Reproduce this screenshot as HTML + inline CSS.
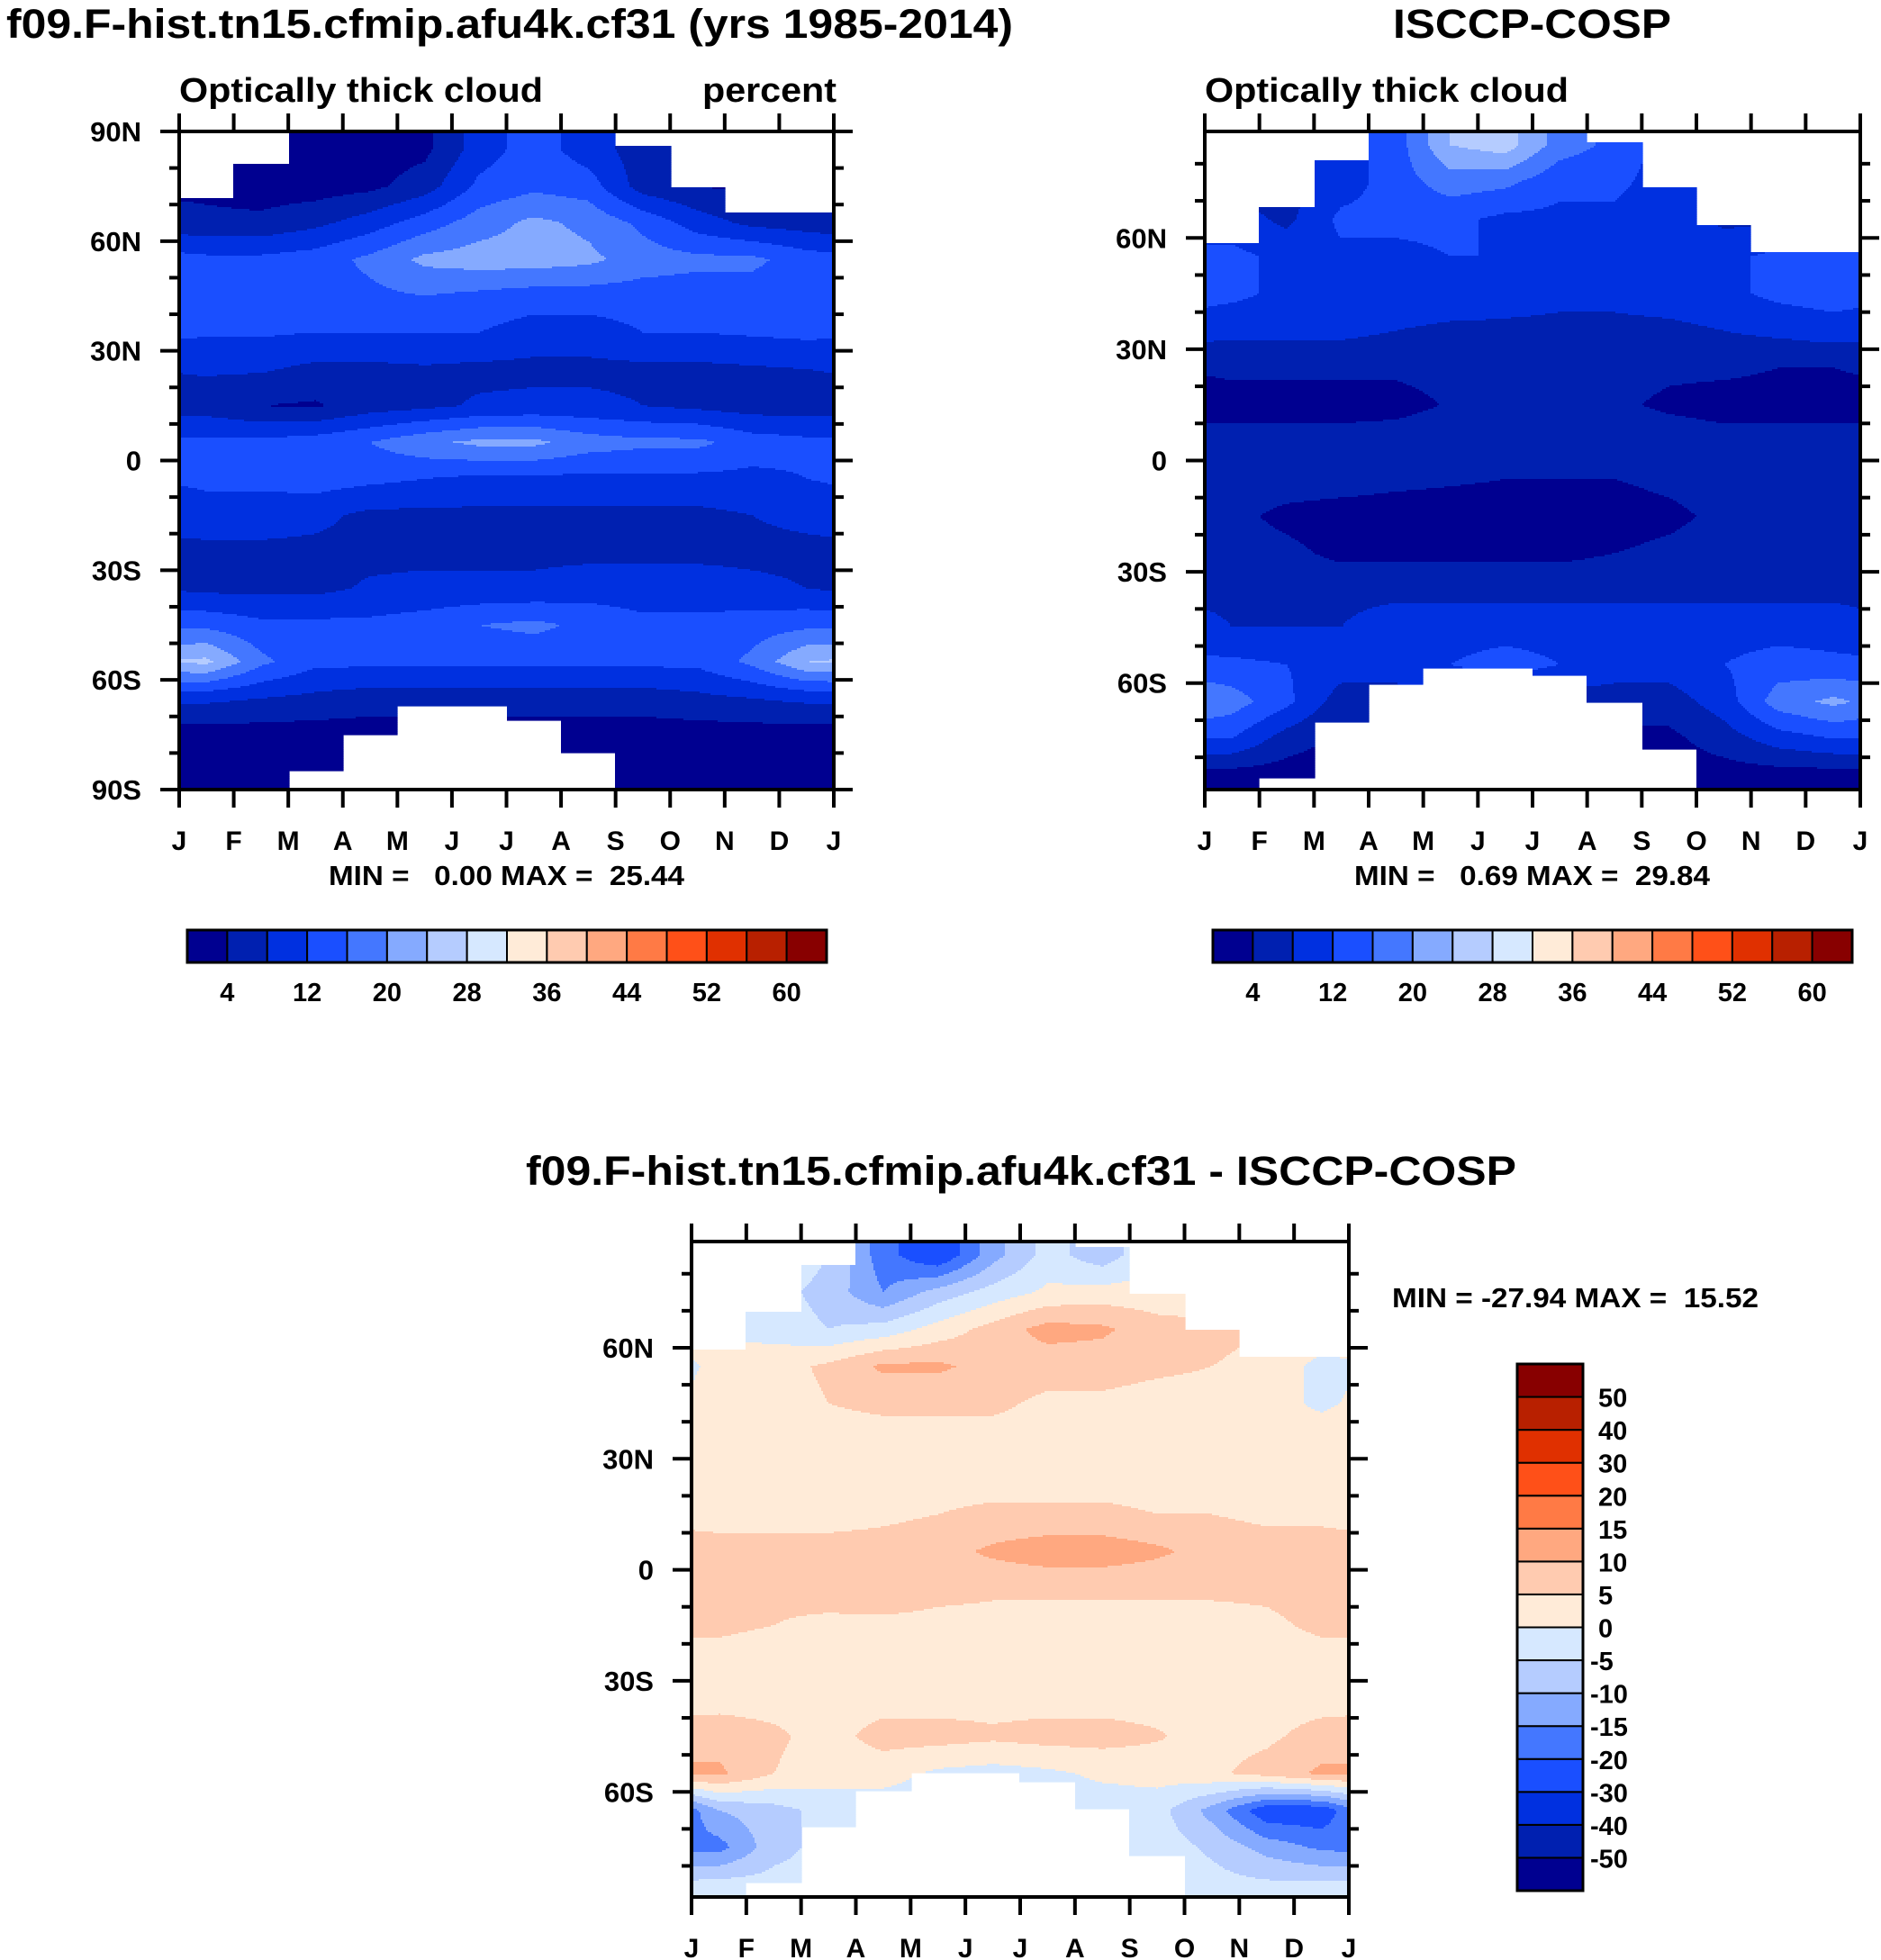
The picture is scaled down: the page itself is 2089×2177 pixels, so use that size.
<!DOCTYPE html>
<html><head><meta charset="utf-8">
<style>
html,body{margin:0;padding:0;background:#fff;}
svg{display:block;font-family:"Liberation Sans",Arial,sans-serif;font-weight:bold;}
</style></head>
<body>
<svg id="fig" width="2089" height="2177" viewBox="0 0 2089 2177" xmlns="http://www.w3.org/2000/svg">
<text x="7" y="42" font-size="45" textLength="1118" lengthAdjust="spacingAndGlyphs">f09.F-hist.tn15.cfmip.afu4k.cf31 (yrs 1985-2014)</text>
<text x="1547" y="42" font-size="45" textLength="309" lengthAdjust="spacingAndGlyphs">ISCCP-COSP</text>
<text x="199" y="113" font-size="38" textLength="404" lengthAdjust="spacingAndGlyphs">Optically thick cloud</text>
<text x="780" y="113" font-size="38" textLength="149" lengthAdjust="spacingAndGlyphs">percent</text>
<text x="1338" y="113" font-size="38" textLength="404" lengthAdjust="spacingAndGlyphs">Optically thick cloud</text>
<text x="365" y="983" font-size="31" textLength="395" lengthAdjust="spacingAndGlyphs" xml:space="preserve">MIN =   0.00 MAX =  25.44</text>
<text x="1504" y="983" font-size="31" textLength="395" lengthAdjust="spacingAndGlyphs" xml:space="preserve">MIN =   0.69 MAX =  29.84</text>
<text x="584" y="1316" font-size="45" textLength="1100" lengthAdjust="spacingAndGlyphs">f09.F-hist.tn15.cfmip.afu4k.cf31 - ISCCP-COSP</text>
<text x="1546" y="1452" font-size="31" textLength="407" lengthAdjust="spacingAndGlyphs" xml:space="preserve">MIN = -27.94 MAX =  15.52</text>
</svg>
<script>
const months = ["J","F","M","A","M","J","J","A","S","O","N","D","J"];
const rowLats = [85,75,65,55,45,35,25,15,5,-5,-15,-25,-35,-45,-55,-65,-75,-85];
const colors = ["#000090","#0020b0","#0030e0","#1a4fff","#4477ff","#85aaff","#b5ccff","#d6e8ff","#ffebd8","#ffcbb0","#ffa880","#ff7a45","#ff5018","#e03000","#b82000","#880000"];
const cloudLevels = [4,8,12,16,20,24,28,32,36,40,44,48,52,56,60];
const cloudLabels = ["4","","12","","20","","28","","36","","44","","52","","60"];
const diffLevels = [-50,-40,-30,-20,-15,-10,-5,0,5,10,15,20,30,40,50];
const diffLabels = ["-50","-40","-30","-20","-15","-10","-5","0","5","10","15","20","30","40","50"];

const modelValues = [
 [2,2,2,2,3,10,14,10,6,4,3,3],
 [3,2,2,3,6,13,15,14,6,4,3,3],
 [5,5,7,10,14,18,21,19,15,10,7,6],
 [13,13,14,17,21,22,22,21,18,17,17,14],
 [13,13,14,15,16,15,14,14,14,14,14,13],
 [12.5,12.5,12,12,12,12,10,10,12,12,12.5,13],
 [8.5,8.5,7,7,7.5,7,7,7,7,7,7.5,8],
 [6,4,3.5,6,7,8.5,9,9,8,7,6,6],
 [13,13,14,16,19,21,21,18,17,17,14,13],
 [13,13,14,13,12,11,11,11,11,11,11,12],
 [10,10,9,7,7,7,7,7,7,7,8,9],
 [7,7,7,7,7,7,7,7,7,7,7,7],
 [7,7,7,8.5,9,9,9,10,10,10,9,8],
 [15,13,13,13,14,16,17,15,13,13,14,15],
 [25,17,13,13,13,13,13,13,13,13,17,24],
 [9,8,7,6,6,6,6,6,6,7,8,9],
 [2,2,2,2,2,2,2,2,2,2,2,2],
 [2,2,2,2,2,2,2,2,2,2,2,2]];
const modelNorth = [72,81,90,90,90,90,90,90,86,74.6,68,68];
const modelSouth = [-90,-90,-85,-74.8,-67,-67,-71,-80,-90,-90,-90,-90];

const obsValues = [
 [10,10,10,14,24,26,18,15,10,8,8,8],
 [6,6,10,14,18,17,13,13,10,6,6,6],
 [10,7,13,13,13,11,11,11,10,7,7,7],
 [13,11,11,11,12,12,12,12,11,11,13,14],
 [13,11,11,11,11,10,9,9,10,11,13,14],
 [9,9,9,8,7,7,7,7,7,8,9,10],
 [5,5,5,5,6,6,6,6,5,5,4,4],
 [2,2,2,2,4.5,6,6,5,3,2,2,2],
 [6,6,6,7,8,8,8,8,7,6,6,6],
 [6,6,6,5,4.5,4,4,4,5,6,6,6],
 [5,3,2,2,2,2,2,2,3,5,6,6],
 [6,5,3,3,3,3,3,4,5,6,6,6],
 [7,7,7,7,7,7,7,7,7,7,7,7],
 [8,8,8,10,10,10,10,10,10,10,10,10],
 [13,12,10,10,12,14,12,10,10,12,14,13],
 [18,13,6,6,6,6,6,6,6,10,18,21],
 [12,6,3,3,3,3,3,3,3,6,10,12],
 [2,2,2,2,2,2,2,2,2,2,2,2]];
const obsNorth = [58.5,68.4,80.8,90,90,90,90,85.9,73.5,63.4,56,56];
const obsSouth = [-90,-85.5,-70.4,-60.3,-55.8,-55.8,-58,-65.4,-77.8,-90,-90,-90];

const diffValues = [
 [0,0,-5,-18,-25,-12,-3,-8,0,0,0,0],
 [0,-3,-7,-15,-8,-3,1,2,2,2,2,2],
 [0,-2,-5,-3,2,7,12,11,7,6,5,5],
 [1,3,6,11,11,8,7,7,6,5,4,-2],
 [2,2,5,6,6,6,4,4,3,3,2,-1],
 [3,3,3,3,3,3,3,3,3,3,3,3],
 [3,3,3,3,3,3,3,3,3,3,3,3],
 [3,3,3,4,5,6,6,6,5,5,4,4],
 [7,7,7,7,8,11,13,13,11,8,7,7],
 [7,7,9,10,7,6,6,6,6,6,6,7],
 [6,5,3,3,3,3,3,3,3,3,4,6],
 [3,2,2,2,2,2,2,2,2,2,2,3],
 [3,3,3,3,3,3,3,3,3,3,3,3],
 [8,6,3,7,7,6,7,7,5.5,3,4,7],
 [11,5,2,2,-1,-2,-1,1,2,4,7,11],
 [-10,-7,-3,-3,-3,-3,-3,-3,-3,-12,-24,-24],
 [-17,-7,-3,-3,-3,-3,-3,-3,-2,-6,-12,-16],
 [-3,-3,-3,-3,-3,-3,-3,-3,-3,-3,-4,-4]];
const diffNorth = [59.6,69.8,82.3,90,90,90,90,87.2,74.8,64.9,57.5,57.5];
const diffSouth = [-90,-84.4,-69.5,-59.9,-54.7,-54.7,-57.2,-64.6,-77,-90,-90,-90];

const NS="http://www.w3.org/2000/svg";
const fig=document.getElementById('fig');
function mk(tag,attrs,parent){const e=document.createElementNS(NS,tag);for(const k in attrs)e.setAttribute(k,attrs[k]);(parent||fig).appendChild(e);return e;}

function levelIndex(v,levels){let k=0;for(const L of levels){if(v>=L)k++;}return k;}
function sample(vals,monthPos,lat){
  let t=monthPos-0.5;let i0=Math.floor(t);const f=t-i0;
  const a=((i0%12)+12)%12,b=(a+1)%12;
  let r=(85-lat)/10;if(r<0)r=0;if(r>17)r=17;
  let j0=Math.floor(r);if(j0>16)j0=16;const g=r-j0;
  const v00=vals[j0][a],v01=vals[j0][b],v10=vals[j0+1][a],v11=vals[j0+1][b];
  return (v00*(1-f)+v01*f)*(1-g)+(v10*(1-f)+v11*f)*g;
}

function panel(p){
  const g=mk('g',{});
  
  
  const field=mk('g',{},g);
  
  
  const cs=2;
  const latOf=py=>p.latTop-(py)/p.h*(p.latTop-p.latBot);
  const yOf=lat=>p.y+(p.latTop-lat)/(p.latTop-p.latBot)*p.h;
  for(let py=0;py<p.h;py+=cs){
    const lat=latOf(py+cs/2);
    let runStart=-1,runCol=null;
    const flush=(end)=>{if(runCol!==null){const r=mk('rect',{x:p.x+runStart,y:p.y+py,width:end-runStart+0.6,height:Math.min(cs,p.h-py)+0.6,fill:runCol},field);}};
    for(let px=0;px<p.w;px+=cs){
      const mp=(px+cs/2)/p.w*12;const m=Math.min(11,Math.floor(mp));
      let col=null;
      if(!(lat>p.north[m]||lat<p.south[m])){col=colors[levelIndex(sample(p.vals,mp,lat),p.levels)];}
      if(col!==runCol){flush(px);runStart=px;runCol=col;}
    }
    flush(p.w);
  }
  const fr=mk('rect',{x:p.x,y:p.y,width:p.w,height:p.h,fill:'none',stroke:'#000','stroke-width':4},g);
  
  for(let i=0;i<=12;i++){
    const x=p.x+i/12*p.w;
    mk('line',{x1:x,y1:p.y+p.h,x2:x,y2:p.y+p.h+20,stroke:'#000','stroke-width':4},g);
    mk('line',{x1:x,y1:p.y,x2:x,y2:p.y-20,stroke:'#000','stroke-width':4},g);
    const t=mk('text',{x:x,y:p.y+p.h+67,'font-size':30,'text-anchor':'middle'},g);
    t.textContent=months[i];
    
    
  }
  for(let lat=90;lat>=-90;lat-=10){
    if(lat>p.latTop+0.01||lat<p.latBot-0.01)continue;
    const y=yOf(lat);const major=(lat%30===0);const L=major?21:11;
    mk('line',{x1:p.x,y1:y,x2:p.x-L,y2:y,stroke:'#000','stroke-width':4},g);
    mk('line',{x1:p.x+p.w,y1:y,x2:p.x+p.w+L,y2:y,stroke:'#000','stroke-width':4},g);
    if(major){
      const t=mk('text',{x:p.x-42,y:y+11,'font-size':31,'text-anchor':'end'},g);
      t.textContent=lat===0?'0':(Math.abs(lat)+(lat>0?'N':'S'));
      
      
    }
  }
}

function hbar(name,x,y,w,h){
  const g=mk('g',{});
  
  
  const bw=w/colors.length;
  colors.forEach((c,i)=>{const r=mk('rect',{x:x+i*bw,y:y,width:bw,height:h,fill:c,stroke:'#000','stroke-width':2},g);});
  mk('rect',{x:x,y:y,width:w,height:h,fill:'none',stroke:'#000','stroke-width':3},g);
  cloudLabels.forEach((l,k)=>{if(!l)return;const t=mk('text',{x:x+(k+1)*bw,y:y+79,'font-size':29,'text-anchor':'middle'},g);t.textContent=l;});
}
function vbar(name,x,y,w,h){
  const g=mk('g',{});
  
  
  const bh=h/colors.length;
  colors.forEach((c,i)=>{const r=mk('rect',{x:x,y:y+(colors.length-1-i)*bh,width:w,height:bh,fill:c,stroke:'#000','stroke-width':2},g);});
  mk('rect',{x:x,y:y,width:w,height:h,fill:'none',stroke:'#000','stroke-width':3},g);
  diffLabels.forEach((l,i)=>{const k=diffLabels.length-1-i;const t=mk('text',{x:x+(l.startsWith('-')?81:90),y:y+(k+1)*bh+11,'font-size':29},g);t.textContent=l;});
}

panel({name:'model-panel',x:199,y:146,w:727,h:731,latTop:90,latBot:-90,vals:modelValues,north:modelNorth,south:modelSouth,levels:cloudLevels});
panel({name:'obs-panel',x:1338,y:146,w:728,h:731,latTop:88.7,latBot:-88.7,vals:obsValues,north:obsNorth,south:obsSouth,levels:cloudLevels});
panel({name:'diff-panel',x:768,y:1379,w:730,h:728,latTop:88.7,latBot:-88.4,vals:diffValues,north:diffNorth,south:diffSouth,levels:diffLevels});
hbar('model-colorbar',208,1033,710,36);
hbar('obs-colorbar',1347,1033,710,36);
vbar('diff-colorbar',1685,1515,73,585);
</script>
</body></html>
